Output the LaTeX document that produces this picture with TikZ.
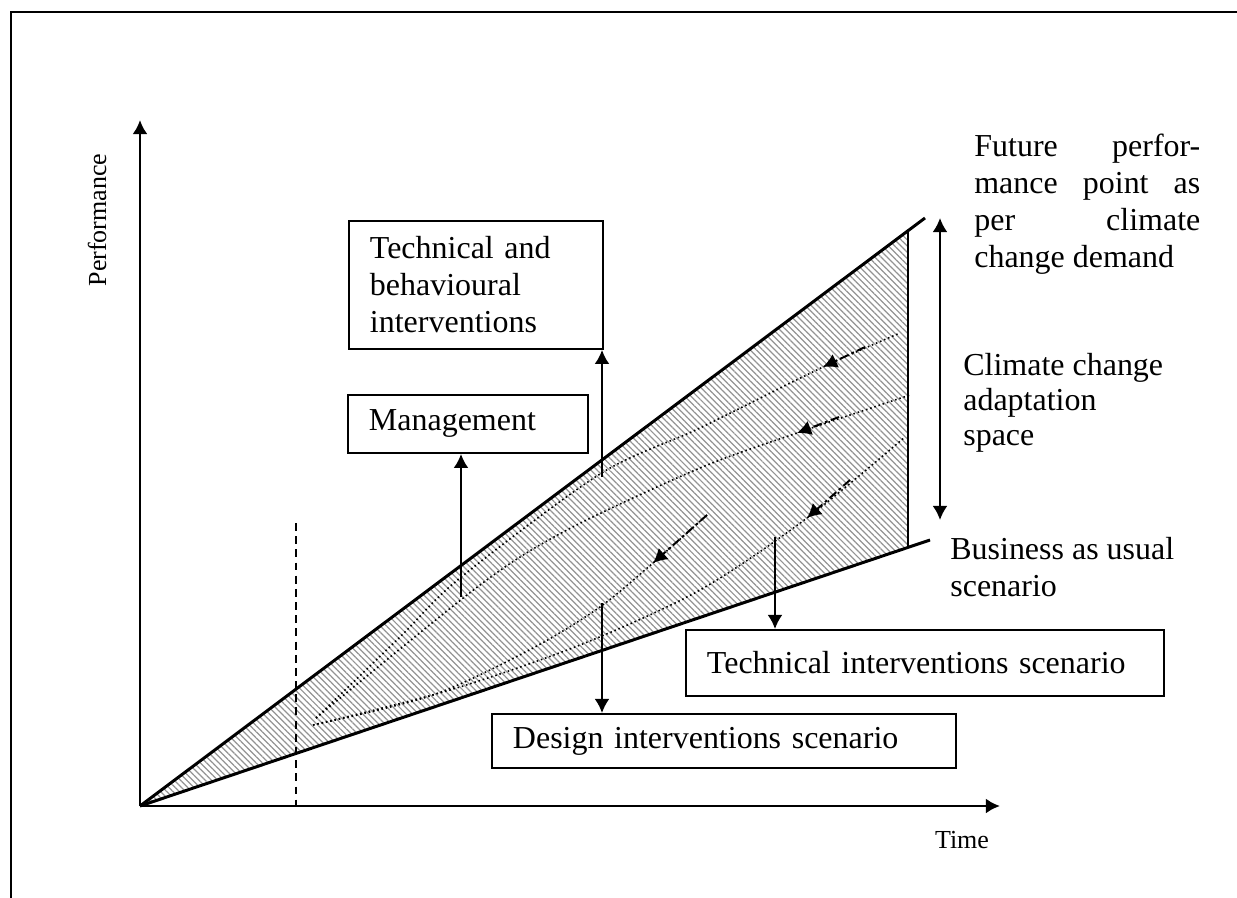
\documentclass[tikz,border=0pt]{standalone}
\usepackage{fontspec}
\setmainfont{Liberation Serif}
\usetikzlibrary{shapes,arrows.meta,positioning,patterns.meta}

\begin{document}
\begin{tikzpicture}[x=0.02cm, y=-0.02cm, >={Latex[length=8pt,width=8.5pt]},
        every node/.style={font=\fontsize{18.2}{21}\selectfont},
        box/.style={draw, line width=1.1pt, anchor=north west, align=left, inner xsep=0.42cm},
        arr/.style={->, line width=1.3pt},
        trend/.style={line width=0.9pt, dash pattern=on 0.9pt off 1.6pt},
        move/.style={->, line width=1.1pt, dash pattern=on 5pt off 2pt on 1.5pt off 2pt}]
        \useasboundingbox (0,0) rectangle (1237,898);

        % Frame
        \draw[line width=1.1pt] (11,898) -- (11,12) -- (1237,12);

        % Adaptation space
        \coordinate (O) at (140,806);
        \fill[pattern={Lines[angle=-45, distance=2.5pt, line width=0.7pt]}, pattern color=gray!85] (O) -- (908,231) -- (908,547) -- cycle;
        \draw[line width=1.7pt] (O) -- (925,218);
        \draw[line width=1.7pt] (O) -- (930,540);
        \draw[line width=1.3pt] (908,231) -- (908,547);

        % Axes
        \draw[->, line width=1.5pt] (O) -- (140,120);
        \draw[->, line width=1.5pt] (O) -- (1000,806);
        \node[font=\fontsize{14.8}{17}\selectfont, rotate=90] (perf) at (97,220) {Performance};
        \node[font=\fontsize{14.8}{17}\selectfont] (time) at (962,840) {Time};
        \draw[line width=1.1pt, dash pattern=on 4.5pt off 3pt] (296,523) -- (296,806);

        % Scenario trends
        \draw[trend] plot[smooth] coordinates {(316,718) (400,637) (460,578) (600,474) (700,428) (823,367) (900,333)};
        \draw[trend] plot[smooth] coordinates {(316,718) (480,585) (567,530) (700,468) (797,433) (910,395)};
        \draw[trend] plot[smooth] coordinates {(313,725) (450,690) (580,645) (700,590) (807,518) (905,437)};
        \draw[trend] plot[smooth] coordinates {(313,725) (433,695) (533,648) (600,607) (653,563) (707,515)};
        \draw[move] (865,347) -- (823,367);
        \draw[move] (839,417) -- (797,433);
        \draw[move] (850,480) -- (807,518);
        \draw[move] (707,515) -- (653,563);

        % Interventions
        \node[box, text width=4.24cm, minimum height=2.56cm] (techbeh) at (348,220) {Technical and\\behavioural\\interventions};
        \node[box, text width=3.96cm, minimum height=1.16cm] (mgmt) at (347,394) {Management};
        \node[box, text width=8.72cm, minimum height=1.32cm] (techint) at (685,629) {Technical interventions scenario};
        \node[box, text width=8.44cm, minimum height=1.08cm] (design) at (491,713) {Design interventions scenario};

        \coordinate (mgmtfoot) at (461,597);
        \coordinate (tbfoot) at (602,477);
        \coordinate (desfoot) at (602,603);
        \coordinate (tifoot) at (775,537);
        \draw[arr] (mgmtfoot) -- (mgmtfoot |- mgmt.south);
        \draw[arr] (tbfoot) -- (tbfoot |- techbeh.south);
        \draw[arr] (desfoot) -- (desfoot |- design.north);
        \draw[arr] (tifoot) -- (tifoot |- techint.north);

        % Adaptation span
        \coordinate (spantop) at (940,218);
        \coordinate (spanbot) at (940,520);
        \draw[arr, <->] (spantop) -- (spanbot);

        \node[anchor=north west, inner sep=0pt, align=left] (future) at (974,134)
            {\makebox[4.52cm][s]{Future perfor-}\\\makebox[4.52cm][s]{mance point as}\\\makebox[4.52cm][s]{per climate}\\change demand};
        \node[anchor=north west, inner sep=0pt, align=left, font=\fontsize{18.2}{20}\selectfont] (space) at (963,353)
            {Climate change\\adaptation\\space};
        \node[anchor=north west, inner sep=0pt, align=left] (bau) at (950,537)
            {Business as usual\\scenario};
\end{tikzpicture}
\end{document}
